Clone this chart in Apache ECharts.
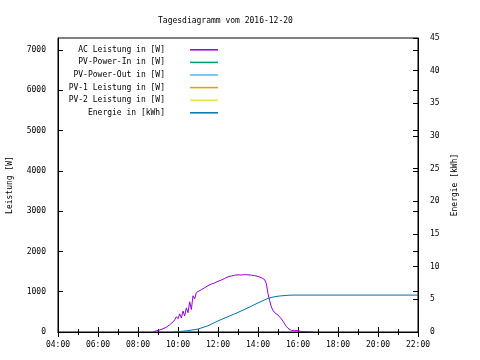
<!DOCTYPE html>
<html><head><meta charset="utf-8">
<script src="https://cdn.jsdelivr.net/npm/echarts@6/dist/echarts.min.js"></script>
<style>html,body{margin:0;padding:0;background:#fff}#c{width:480px;height:360px}</style>
</head><body><div id="c"></div>
<script>
var titleText = 'Tagesdiagramm vom 2016-12-20';
var seriesNames = ['AC Leistung in [W]','PV-Power-In in [W]','PV-Power-Out in [W]','PV-1 Leistung in [W]','PV-2 Leistung in [W]','Energie in [kWh]'];
var seriesColors = ['#9400d3','#009e73','#56b4e9','#e69f00','#f0e442','#0072b2'];
var xTickLabels = ['04:00','06:00','08:00','10:00','12:00','14:00','16:00','18:00','20:00','22:00'];

var acTimes = ['08:45','08:50','08:55','09:00','09:05','09:10','09:15','09:20','09:25','09:30','09:35','09:40','09:45','09:50','09:55','10:00','10:05','10:10','10:15','10:20','10:25','10:30','10:35','10:40','10:45','10:50','10:55','11:00','11:10','11:20','11:30','11:40','11:50','12:00','12:10','12:20','12:30','12:40','12:50','13:00','13:10','13:20','13:30','13:40','13:50','14:00','14:10','14:20','14:25','14:30','14:35','14:40','14:45','14:50','14:55','15:00','15:05','15:10','15:15','15:20','15:25','15:30','15:35','15:40','15:45','15:50','15:55','16:00','16:10','16:20','16:30','16:40','16:45'];
var acValues = [0,10,30,20,50,40,80,60,120,150,180,170,250,300,380,330,450,350,520,400,600,480,750,560,900,820,980,1020,1050,1100,1150,1190,1220,1260,1290,1330,1370,1390,1410,1420,1415,1425,1420,1410,1400,1380,1350,1300,1200,950,780,620,540,480,440,420,380,330,270,200,140,90,60,40,30,40,20,30,15,10,5,3,0];

var enTimes = ['09:45','10:00','10:30','11:00','11:30','12:00','12:30','13:00','13:30','14:00','14:30','14:45','15:00','15:15','15:30','15:45','22:00'];
var enValues = [0,0.05,0.2,0.45,0.95,1.7,2.35,3.0,3.7,4.45,5.15,5.35,5.48,5.56,5.62,5.65,5.65];

function toH(t){var p=t.split(':');return +p[0]+ +p[1]/60;}
function pairs(ts,vs){return ts.map(function(t,i){return [toH(t),vs[i]];});}

var font = {fontFamily:'DejaVu Sans Mono', fontSize:8, color:'#000'};
var chart = echarts.init(document.getElementById('c'));
var series = seriesNames.map(function(n,i){
  var d = [];
  if(i===0) d = pairs(acTimes,acValues);
  if(i===5) d = pairs(enTimes,enValues);
  return {name:n,type:'line',data:d,yAxisIndex:i===5?1:0,xAxisIndex:0,showSymbol:false,symbol:'none',
    lineStyle:{width:1,color:seriesColors[i]},itemStyle:{color:seriesColors[i]},animation:false};
});
var xCommon = {type:'value',min:4,max:22,interval:2,splitLine:{show:false},
  axisLine:{show:true,lineStyle:{color:'#000'}},
  axisTick:{inside:true,length:5,lineStyle:{color:'#000'}},
  minorTick:{show:true,splitNumber:2,length:3,lineStyle:{color:'#000'}},minorSplitLine:{show:false}};
chart.setOption({
  animation:false,
  title:{text:titleText,left:153,top:12,textStyle:{fontFamily:'DejaVu Sans Mono',fontSize:8,fontWeight:'normal',color:'#000'}},
  grid:{left:58,right:62,top:38,bottom:28,show:true,borderColor:'#000',borderWidth:1,backgroundColor:'transparent',containLabel:false,outerBoundsMode:'none'},
  legend:{orient:'vertical',left:50,top:39,align:'right',icon:'rect',itemWidth:28,itemHeight:1.5,itemGap:1,
    data:seriesNames,
    textStyle:{fontFamily:'DejaVu Sans Mono',fontSize:8,color:'#000',width:110,align:'right',padding:[0,20,0,0],lineHeight:11.6},
    selectedMode:false},
  xAxis:[
    Object.assign({},xCommon,{position:'bottom',axisLabel:Object.assign({},font,{margin:9,formatter:function(v){return xTickLabels[(v-4)/2]||'';}})}),
    Object.assign({},xCommon,{position:'top',axisLabel:{show:false}})
  ],
  yAxis:[
    {type:'value',min:0,max:7300,interval:1000,position:'left',name:'Leistung [W]',nameLocation:'middle',nameGap:44,nameRotate:90,
     nameTextStyle:font,splitLine:{show:false},axisLine:{show:true,lineStyle:{color:'#000'}},
     axisTick:{inside:true,length:5,lineStyle:{color:'#000'}},
     axisLabel:Object.assign({},font,{margin:12,showMaxLabel:false,formatter:function(v){return String(v);}})},
    {type:'value',min:0,max:45,interval:5,position:'right',name:'Energie [kWh]',nameLocation:'middle',nameGap:30,nameRotate:90,
     nameTextStyle:font,splitLine:{show:false},axisLine:{show:true,lineStyle:{color:'#000'}},
     axisTick:{inside:true,length:5,lineStyle:{color:'#000'}},
     axisLabel:Object.assign({},font,{margin:12})},
    {type:'value',min:0,max:7300,interval:1000,position:'right',splitLine:{show:false},axisLine:{show:false},
     axisTick:{inside:true,length:5,lineStyle:{color:'#000'}},axisLabel:{show:false}}
  ],
  series:series
});
</script></body></html>
